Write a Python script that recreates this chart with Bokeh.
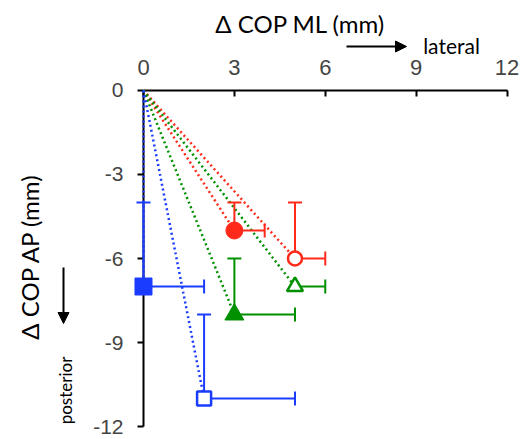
import numpy as np
from bokeh.plotting import figure
from bokeh.models import (Range1d, LinearAxis, FixedTicker, Label, Arrow,
                          NormalHead, ColumnDataSource)
from bokeh.embed import file_html
from bokeh.resources import INLINE

# ---- data ----
conditions = ["red_filled", "red_open", "green_filled", "green_open", "blue_filled", "blue_open"]
ml_mean = [3, 5, 3, 5, 0, 2]          # Δ COP ML (mm)
ap_mean = [-5, -6, -8, -7, -7, -11]   # Δ COP AP (mm)
ml_err = [1, 1, 2, 1, 2, 3]
ap_err = [1, 2, 2, 0, 3, 3]
colors = ["#ff2a1a", "#ff2a1a", "#009000", "#009000", "#1a3cff", "#1a3cff"]
markers = ["circle", "circle", "triangle", "triangle", "square", "square"]
filled = [True, False, True, False, True, False]
origin_x = 0
origin_y = 0
x_ticks = [0, 3, 6, 9, 12]
y_ticks = [0, -3, -6, -9, -12]
y_tick_labels = ["0", "-3", "-6", "-9", "-12"]

TICK_FONT = "Liberation Sans"
TITLE_FONT = "Lato"
W, H = 522, 439

p = figure(width=W, height=H, x_range=Range1d(-4.72, 12.51), y_range=Range1d(-12.464, 3.214),
           output_backend="svg", toolbar_location=None,
           x_axis_location=None, y_axis_location=None,
           min_border=0, min_border_left=0, min_border_right=0,
           min_border_top=0, min_border_bottom=0,
           outline_line_color=None)
p.background_fill_color = "white"
p.xgrid.visible = False
p.ygrid.visible = False

xaxis = LinearAxis(fixed_location=0, bounds=(0, 12), ticker=FixedTicker(ticks=x_ticks),
                   major_tick_in=6, major_tick_out=0, minor_tick_in=0, minor_tick_out=0,
                   axis_line_width=2, major_tick_line_width=2,
                   major_label_text_font=TICK_FONT, major_label_text_font_size="22px",
                   major_label_standoff=15)
p.add_layout(xaxis, "above")

yaxis = LinearAxis(fixed_location=0, bounds=(-12, 0), ticker=FixedTicker(ticks=y_ticks),
                   major_label_overrides={t: l for t, l in zip(y_ticks, y_tick_labels)},
                   major_tick_in=0, major_tick_out=6, minor_tick_in=0, minor_tick_out=0,
                   axis_line_width=2, major_tick_line_width=2,
                   major_label_text_font=TICK_FONT, major_label_text_font_size="21px",
                   major_label_standoff=14)
p.add_layout(yaxis, "left")

n = len(conditions)
# dotted lines from origin
lines = ColumnDataSource(dict(x0=[origin_x] * n, y0=[origin_y] * n, x1=ml_mean, y1=ap_mean, c=colors))
r = p.segment("x0", "y0", "x1", "y1", source=lines, line_color="c", line_width=2.5, line_dash="2 3")
r.level = "overlay"

# error bars
vx, vy0, vy1, vc = [], [], [], []
hx0, hx1, hy, hc = [], [], [], []
for i in range(n):
    if ap_err[i] > 0:
        vx.append(ml_mean[i]); vy0.append(ap_mean[i]); vy1.append(ap_mean[i] + ap_err[i]); vc.append(colors[i])
    if ml_err[i] > 0:
        hy.append(ap_mean[i]); hx0.append(ml_mean[i]); hx1.append(ml_mean[i] + ml_err[i]); hc.append(colors[i])
vsrc = ColumnDataSource(dict(x=vx, y0=vy0, y1=vy1, c=vc))
hsrc = ColumnDataSource(dict(y=hy, x0=hx0, x1=hx1, c=hc))
r = p.segment("x", "y0", "x", "y1", source=vsrc, line_color="c", line_width=2)
r.level = "overlay"
r = p.segment("x0", "y", "x1", "y", source=hsrc, line_color="c", line_width=2)
r.level = "overlay"
r = p.scatter("x", "y1", source=vsrc, marker="dash", size=14, line_color="c", line_width=2)
r.level = "overlay"
r = p.scatter("x1", "y", source=hsrc, marker="dash", angle=np.pi / 2, size=14, line_color="c", line_width=2)
r.level = "overlay"

# markers
sizes = {"circle": 17, "triangle": 19, "square": 17}
for i in range(n):
    m = markers[i]
    if filled[i]:
        r = p.scatter([ml_mean[i]], [ap_mean[i]], marker=m, size=sizes[m],
                      fill_color=colors[i], line_color=colors[i], line_width=1)
    else:
        r = p.scatter([ml_mean[i]], [ap_mean[i]], marker=m, size=sizes[m] - 3,
                      fill_color="white", line_color=colors[i], line_width=2.5)
    r.level = "overlay"

# titles and direction annotations (screen units, origin at bottom-left of canvas)
def sy(y_from_top):
    return H - y_from_top

p.add_layout(Label(x=300, y=sy(23), x_units="screen", y_units="screen", text="Δ COP ML (mm)",
                   text_font=TITLE_FONT, text_font_size="24px", text_align="center",
                   text_baseline="middle", text_color="black"))
p.add_layout(Label(x=451, y=sy(45), x_units="screen", y_units="screen", text="lateral",
                   text_font=TITLE_FONT, text_font_size="21px", text_align="center",
                   text_baseline="middle", text_color="black"))
p.add_layout(Arrow(x_start=346, y_start=sy(46), x_end=406, y_end=sy(46),
                   start_units="screen", end_units="screen", line_width=2,
                   end=NormalHead(size=11, fill_color="black", line_color="black")))
p.add_layout(Label(x=29, y=sy(256), x_units="screen", y_units="screen", text="Δ COP AP (mm)",
                   angle=np.pi / 2, text_font=TITLE_FONT, text_font_size="24px",
                   text_align="center", text_baseline="middle", text_color="black"))
p.add_layout(Arrow(x_start=63, y_start=sy(267), x_end=63, y_end=sy(323),
                   start_units="screen", end_units="screen", line_width=2,
                   end=NormalHead(size=11, fill_color="black", line_color="black")))
p.add_layout(Label(x=65, y=sy(390), x_units="screen", y_units="screen", text="posterior",
                   angle=np.pi / 2, text_font=TITLE_FONT, text_font_size="17px",
                   text_align="center", text_baseline="middle", text_color="black"))

open("out.html", "w").write(file_html(p, INLINE))
